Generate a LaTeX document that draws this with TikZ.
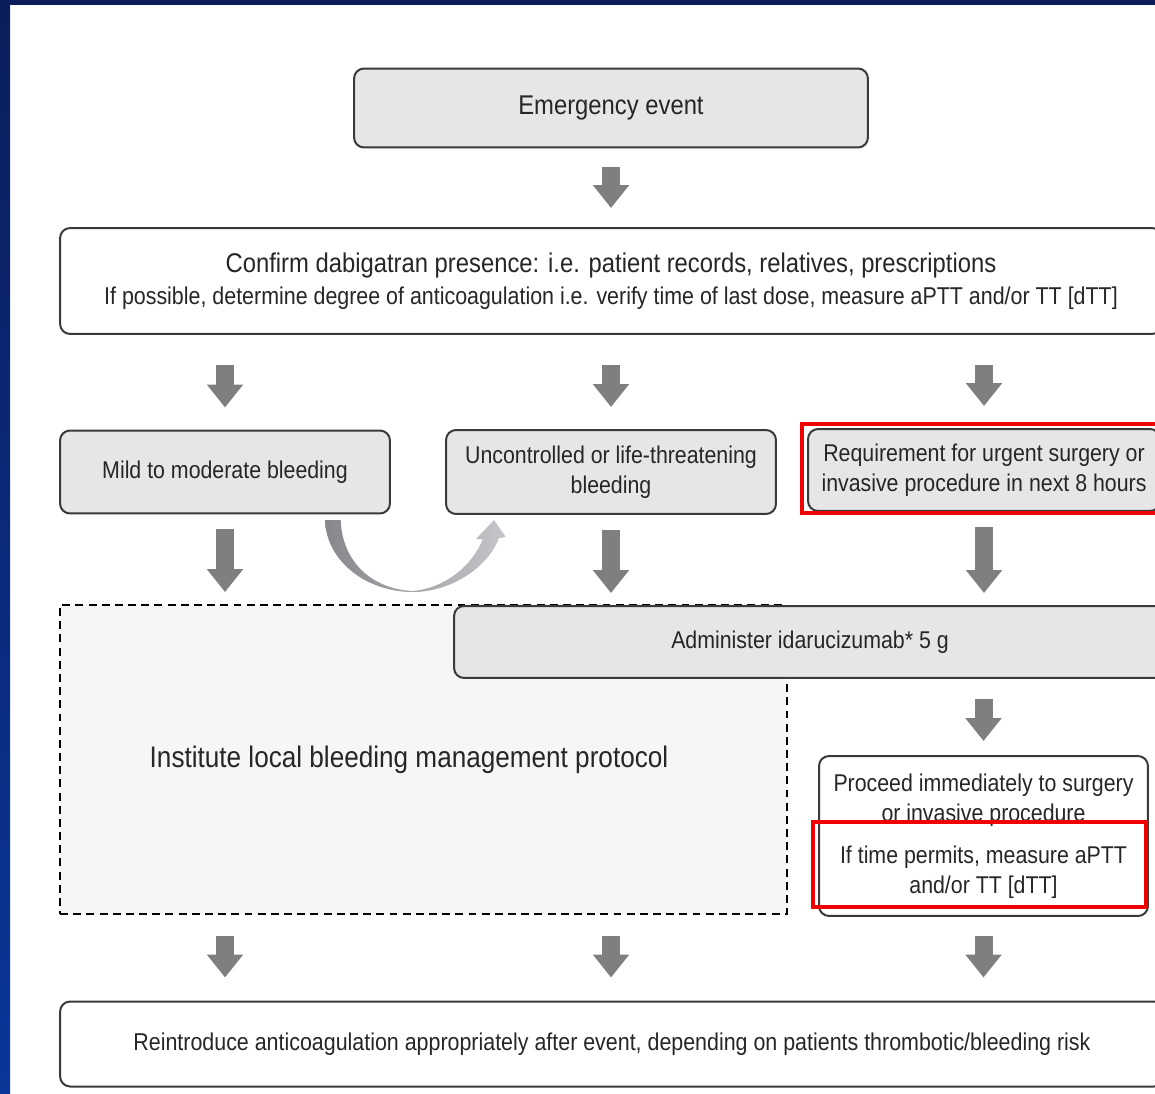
\documentclass[tikz,border=0pt]{standalone}
\usepackage{fontspec}
\setmainfont{Liberation Sans}[FakeStretch=0.88]
\usetikzlibrary{arrows.meta}
\usetikzlibrary{calc}
\definecolor{navy1}{HTML}{0B1E5B}
\definecolor{navy2}{HTML}{0A3699}
\definecolor{boxgray}{HTML}{E6E6E8}
\definecolor{protogray}{HTML}{F6F6F6}
\definecolor{boxline}{HTML}{3A3A3A}
\definecolor{arrowgray}{HTML}{7F7F7F}
\definecolor{curvegray1}{HTML}{88888C}
\definecolor{curvegray2}{HTML}{C6C6CA}
\definecolor{textgray}{HTML}{262626}
\definecolor{markred}{HTML}{F00000}
\tikzset{
	box/.style = {draw = boxline, line width = 0.04cm, rounded corners = 0.2cm, text = textgray, align = center, inner sep = 0pt, font = \fontsize{13.8}{17.1}\selectfont},
	graybox/.style = {box, fill = boxgray},
	whitebox/.style = {box, fill = white},
	blockarrow/.style = {arrowgray, line width = 0.36cm, -{Triangle[width = 0.7cm, length = 0.46cm]}},
	redmark/.style = {markred, line width = 0.08cm}
}

\begin{document}
\begin{tikzpicture}[x = 0.02cm, y = -0.02cm]
\useasboundingbox (0,0) rectangle (1155,1094);
\clip (0,0) rectangle (1155,1094);
\shade[top color = navy1, bottom color = navy2] (0,0) rectangle (10,1094);
\fill[navy1] (0,0) rectangle (1155,5);

\node[graybox, minimum width = 10.28cm, minimum height = 1.58cm, font = \fontsize{15.4}{19}\selectfont] (emerg) at (611,108) {Emergency event};
\node[whitebox, minimum width = 22.04cm, minimum height = 2.12cm, font = \fontsize{15.4}{18.2}\selectfont] (conf) at (611,281)
	{Confirm dabigatran presence: i.e. patient records, relatives, prescriptions\\
	{\fontsize{13.85}{18.2}\selectfont If possible, determine degree of anticoagulation i.e. verify time of last dose, measure aPTT and/or TT [dTT]}};

\node[graybox, minimum width = 6.6cm, minimum height = 1.66cm] (mild) at (225,472) {Mild to moderate bleeding};
\node[graybox, minimum width = 6.6cm, minimum height = 1.68cm] (unctrl) at (611,472) {Uncontrolled or life-threatening\\bleeding};
\node[graybox, minimum width = 7.04cm, minimum height = 1.64cm] (req) at (984,470) {Requirement for urgent surgery or\\invasive procedure in next 8 hours};
\draw[redmark] (802,424) rectangle (1170,513);

\node[draw = black, line width = 0.04cm, dash pattern = on 4.5pt off 3pt, fill = protogray, minimum width = 14.54cm, minimum height = 6.18cm] (proto) at (423.5,759.5) {};
\node[text = textgray, font = \fontsize{16.9}{20}\selectfont] (protolbl) at (409,760) {Institute local bleeding management protocol};
\node[graybox, minimum width = 14.24cm, minimum height = 1.44cm] (admin) at (810,642) {Administer idarucizumab* 5 g};

\node[whitebox, minimum width = 6.58cm, minimum height = 3.2cm] (proceed) at (983.5,836)
	{Proceed immediately to surgery\\or invasive procedure\\[6.8pt]If time permits, measure aPTT\\and/or TT [dTT]};
\draw[redmark] (813,822) rectangle (1146,907);

\node[whitebox, minimum width = 22.08cm, minimum height = 1.7cm, font = \fontsize{13.85}{17}\selectfont] (reint) at (612,1044)
	{Reintroduce anticoagulation appropriately after event, depending on patients thrombotic/bleeding risk};

% block arrows
\draw[blockarrow, shorten < = 0.38cm, shorten > = 0.38cm] (emerg) -- (conf);
\foreach \n in {mild, unctrl, req}
	\draw[blockarrow, shorten < = 0.6cm, shorten > = 0.44cm] (\n.north |- conf.south) -- (\n.north);
\draw[blockarrow, shorten < = 0.3cm, shorten > = 0.24cm] (mild.south) -- (mild.south |- proto.north);
\foreach \n in {unctrl, req}
	\draw[blockarrow, shorten < = 0.3cm, shorten > = 0.24cm] (\n.south) -- (\n.south |- admin.north);
\draw[blockarrow, shorten < = 0.4cm, shorten > = 0.28cm] (proceed.north |- admin.south) -- (proceed.north);
\foreach \n in {mild, unctrl, proceed}
	\draw[blockarrow, shorten < = 0.42cm, shorten > = 0.46cm] (\n.south |- proto.south) -- (\n.south |- reint.north);

% escalation arrow
\shade[left color = curvegray1, right color = curvegray2]
	(325,520) .. controls (326,560) and (365,592) .. (413,592)
	.. controls (450,592) and (488,568) .. (498.7,538.3)
	-- (505.7,537) -- (494,520) -- (476,539) -- (482.7,539.3)
	.. controls (472,566) and (445,588) .. (413,591)
	.. controls (370,589) and (342,560) .. (340.7,520) -- cycle;

\end{tikzpicture}
\end{document}
